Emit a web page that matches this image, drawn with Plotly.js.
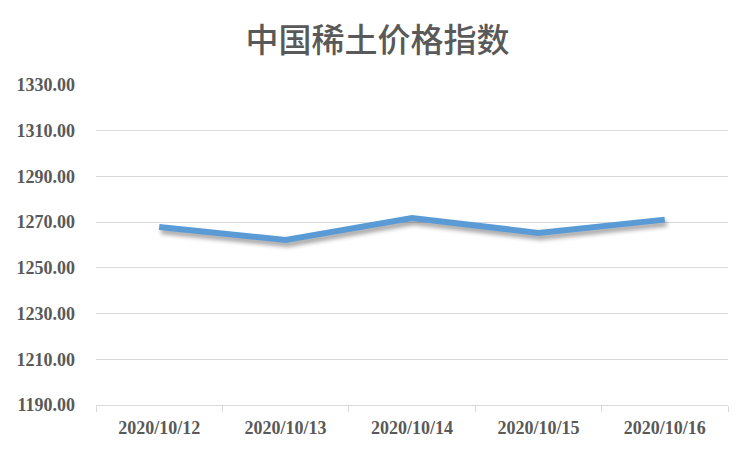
<!DOCTYPE html>
<html>
<head>
<meta charset="utf-8">
<script src="https://cdn.plot.ly/plotly-3.0.1.min.js"></script>
<style>
html,body{margin:0;padding:0;background:#fff;}
#chart{width:752px;height:451px;}
.scatterlayer .trace path.js-line{filter:drop-shadow(2px 4px 2px rgba(0,0,0,0.35));}
</style>
</head>
<body>
<div id="chart"></div>
<script>
const dates = ["2020/10/12","2020/10/13","2020/10/14","2020/10/15","2020/10/16"];
const priceIndex = [1267.9, 1262.2, 1271.8, 1265.3, 1271.1];
const chartTitle = "中国稀土价格指数";

const trace = {
  x: dates,
  y: priceIndex,
  type: "scatter",
  mode: "lines",
  line: {color: "#5b9bd5", width: 6},
  hoverinfo: "x+y"
};

const tickFont = {family: "Liberation Serif, Times New Roman, serif", size: 18, color: "#595959", weight: "bold"};

const layout = {
  width: 752, height: 451,
  paper_bgcolor: "#ffffff", plot_bgcolor: "#ffffff",
  margin: {l: 96, r: 24, t: 85, b: 46},
  showlegend: false,
  title: {
    text: chartTitle,
    x: 0.502, xanchor: "center",
    y: 0.91, yanchor: "middle",
    font: {family: "Noto Sans CJK SC, sans-serif", size: 33, color: "#595959", weight: 500}
  },
  xaxis: {
    type: "category",
    range: [-0.5, 4.5],
    tickson: "boundaries",
    ticks: "outside", ticklen: 6, tickcolor: "#d9d9d9", tickwidth: 1,
    showline: true, linecolor: "#d9d9d9", linewidth: 1,
    showgrid: false, zeroline: false,
    tickfont: tickFont,
    ticklabelstandoff: 6
  },
  yaxis: {
    range: [1190, 1330], dtick: 20, tick0: 1190,
    tickformat: ".2f",
    showgrid: true, gridcolor: "#d9d9d9", gridwidth: 1,
    showline: false, zeroline: false, ticks: "",
    tickfont: tickFont,
    ticklabelstandoff: 20
  }
};

Plotly.newPlot("chart", [trace], layout, {displayModeBar: false, staticPlot: true});
</script>
</body>
</html>
